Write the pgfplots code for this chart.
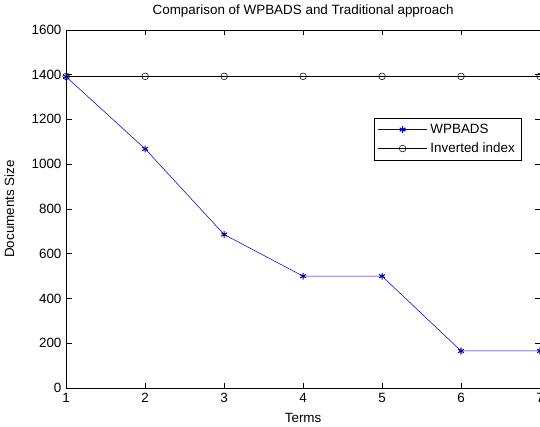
\documentclass[border=0pt]{standalone}
\usepackage{fontspec}
\setmainfont{Liberation Sans}
\usepackage{pgfplots}
\pgfplotsset{compat=1.18}

\begin{document}
\begin{tikzpicture}[trim axis right]
\begin{axis}[
    scale only axis,
    width=353pt, height=267pt,
    xmin=1, xmax=7, ymin=0, ymax=1600,
    xtick={1,...,7}, ytick={0,200,...,1600},
    tick align=inside, major tick length=4pt,
    tick style={black, thin},
    axis line style={black, thin},
    /pgf/number format/assume math mode=true,
    /pgf/number format/1000 sep={},
    tick label style={font=\fontsize{10}{11}\selectfont},
    label style={font=\fontsize{10}{11}\selectfont},
    title style={font=\fontsize{10}{11}\selectfont, yshift=0pt},
    title={Comparison of WPBADS and Traditional approach},
    xlabel={Terms}, ylabel={Documents Size},
    xlabel style={yshift=-1pt}, ylabel style={yshift=6pt},
    legend style={at={(0.96,0.755)}, anchor=north east, draw=black,
        font=\fontsize{10}{11}\selectfont, inner sep=2.5pt, row sep=1.5pt},
    legend cell align=left,
    legend image code/.code={
        \draw[mark repeat=2, mark phase=2, #1]
            plot coordinates {(0cm,0cm) (0.65cm,0cm) (1.3cm,0cm)};},
]
\addplot[color=blue!75!black, thin, mark=asterisk, mark size=2.5pt,
    mark options={color=blue!70!black, thick}] coordinates {
 (1,1390) (2,1068) (3,686) (4,500) (5,500) (6,166) (7,166)};
\addplot[color=black, thin, mark=o, mark size=2.5pt] coordinates {
 (1,1392) (2,1392) (3,1392) (4,1392) (5,1392) (6,1392) (7,1392)};
\legend{WPBADS, Inverted index}
\end{axis}
\end{tikzpicture}
\end{document}
